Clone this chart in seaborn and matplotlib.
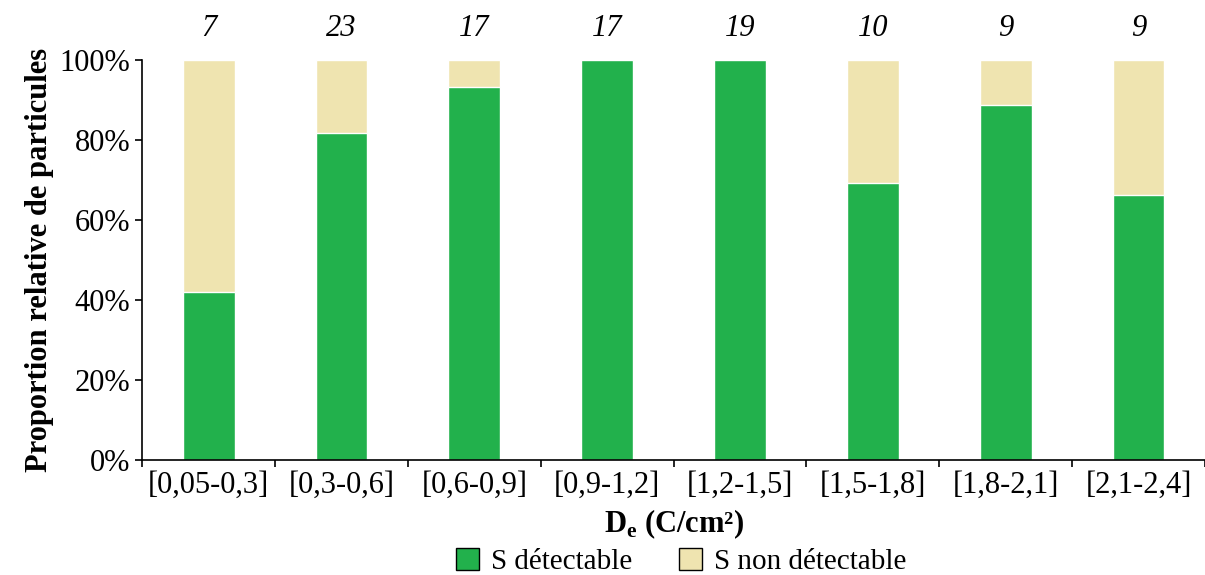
import pandas as pd
import seaborn as sns
import matplotlib.pyplot as plt
import matplotlib.patches as mpatches
from matplotlib.transforms import blended_transform_factory

# Data
classes = ['[0,05-0,3]', '[0,3-0,6]', '[0,6-0,9]', '[0,9-1,2]',
           '[1,2-1,5]', '[1,5-1,8]', '[1,8-2,1]', '[2,1-2,4]']
detectable = [42.1, 81.7, 93.2, 100, 100, 69.2, 88.8, 66.3]
total = [100, 100, 100, 100, 100, 100, 100, 100]
counts = [7, 23, 17, 17, 19, 10, 9, 9]

df = pd.DataFrame({'classe': classes, 'detectable': detectable, 'total': total})

green = '#22b14c'
beige = '#efe4b0'

sns.set_theme(style="ticks")
plt.rcParams['font.family'] = ['Liberation Serif', 'DejaVu Serif']
plt.rcParams['mathtext.fontset'] = 'custom'
plt.rcParams['mathtext.rm'] = 'Liberation Serif'
plt.rcParams['mathtext.bf'] = 'Liberation Serif:bold'
plt.rcParams['text.color'] = 'black'

fig = plt.figure(figsize=(12.05, 5.75), dpi=100)
ax = fig.add_axes([0.118, 0.2, 0.882, 0.6957])

sns.barplot(data=df, x='classe', y='total', color=beige, width=0.39,
            saturation=1, ax=ax)
sns.barplot(data=df, x='classe', y='detectable', color=green, width=0.39,
            saturation=1, ax=ax)

ax.set_ylim(0, 100)
ax.set_xlim(-0.5, 7.42)
ax.set_yticks([0, 20, 40, 60, 80, 100])
ax.set_yticklabels([f'{v}%' for v in [0, 20, 40, 60, 80, 100]])
ax.set_xticks(range(len(classes)))
ax.set_xticklabels(classes)
ax.set_xticks([i - 0.5 for i in range(len(classes) + 1)], minor=True)
ax.tick_params(axis='x', which='major', length=0, labelsize=22, pad=8, colors='black')
ax.tick_params(axis='x', which='minor', length=5, width=1.2, color='black')
ax.tick_params(axis='y', length=5, width=1.2, labelsize=22, colors='black')

sns.despine(ax=ax)
ax.spines['left'].set_color('black')
ax.spines['bottom'].set_color('black')
ax.spines['left'].set_linewidth(1.2)
ax.spines['bottom'].set_linewidth(1.2)

ax.set_ylabel('Proportion relative de particules', fontsize=22,
              fontweight='bold', color='black', labelpad=4)
ax.set_xlabel(r'D$_{\mathbf{e}}$ (C/cm²)', fontsize=22, fontweight='bold',
              color='black', labelpad=5)

# number of particles above each bar
trans = blended_transform_factory(ax.transData, ax.transAxes)
for i, n in enumerate(counts):
    ax.text(i, 1.078, str(n), transform=trans, ha='center', va='center',
            fontsize=22, fontstyle='italic', color='black')

handles = [mpatches.Patch(facecolor=green, edgecolor='black', label='S détectable'),
           mpatches.Patch(facecolor=beige, edgecolor='black', label='S non détectable')]
fig.legend(handles=handles, loc='center', bbox_to_anchor=(0.565, 0.024),
           ncol=2, frameon=False, fontsize=21, handlelength=0.8,
           handleheight=0.8, handletextpad=0.4, columnspacing=1.6,
           borderpad=0, labelcolor='black')

plt.savefig("out.png", dpi=100)
